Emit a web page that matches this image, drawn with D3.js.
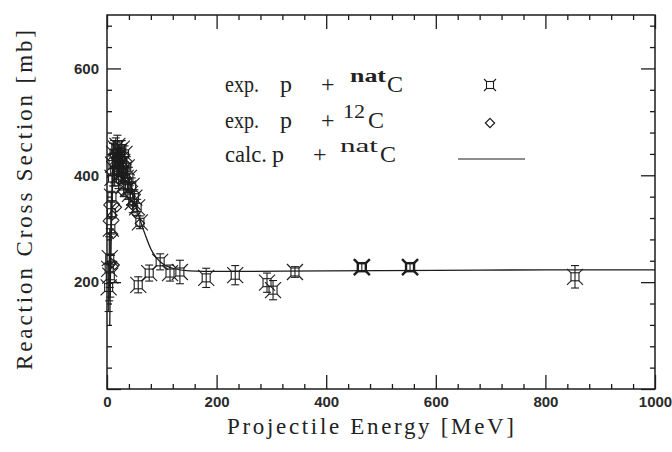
<!DOCTYPE html>
<html><head><meta charset="utf-8">
<script src="https://cdn.jsdelivr.net/npm/d3@7"></script>
<style>
html,body{margin:0;padding:0;background:#fff;}
svg{display:block;}
</style></head><body>
<svg id="chart" width="672" height="452"></svg>
<script>
// Proton reaction cross sections on carbon

// measured p + natC: energy [MeV], cross section [mb], error [mb]
const natE     = [3, 4, 5, 6, 7, 8, 9, 10, 11,
                  13, 14, 16, 17, 19, 20, 21, 22, 23, 25, 26, 27, 28, 30, 31, 32, 34, 36, 38, 40, 42, 45, 47, 50, 55, 60,
                  57, 77, 97, 115, 133, 181, 234, 292, 303, 343, 465, 553, 854];
const natSigma = [190, 225, 245, 212, 300, 330, 360, 395, 420,
                  440, 410, 450, 425, 455, 435, 400, 445, 420, 430, 405, 450, 425, 410, 380, 440, 395, 415, 375, 395, 365, 380, 350, 358, 340, 312,
                  195, 217, 238, 217, 219, 208, 213, 199, 185, 219, 228, 228, 210];
const natErr   = [45, 60, 55, 40, 50, 40, 40, 45, 40,
                  25, 30, 20, 25, 20, 20, 25, 20, 20, 20, 20, 15, 20, 20, 20, 15, 20, 20, 20, 20, 20, 15, 20, 15, 15, 12,
                  15, 15, 15, 15, 22, 18, 18, 18, 18, 10, 8, 8, 21];

// measured p + 12C: energy [MeV], cross section [mb]
const c12E     = [8, 10, 11, 14, 18, 22, 28, 35, 45, 52, 60];
const c12Sigma = [235, 325, 290, 232, 340, 390, 370, 420, 345, 330, 310];

// calculated p + natC
const calcE     = [5, 7, 9, 12, 16, 20, 25, 30, 35, 40, 45, 50, 55, 60, 70, 80, 90, 100, 120, 150, 200, 400, 600, 800, 1000];
const calcSigma = [120, 260, 350, 410, 440, 445, 435, 420, 405, 390, 372, 352, 335, 318, 288, 262, 246, 236, 226, 221, 220, 221, 222, 223, 223];

const xTicks = [0, 200, 400, 600, 800, 1000];
const yTicks = [200, 400, 600];

const svg = d3.select("#chart");
const m = {left: 107, right: 655, top: 15, bottom: 389};
const ink = "#1c1c1c";

const x = d3.scaleLinear().domain([0, 1000]).range([m.left, m.right]);
const y = d3.scaleLinear().domain([0, 700]).range([m.bottom, m.top]);

const xMinor = d3.range(0, 1001, 40).filter(v => v % 200 !== 0);
const yMinor = d3.range(0, 701, 40).filter(v => v % 200 !== 0);
const yMajor = [0, 200, 400, 600];

function tidy(g) {
  g.select(".domain").remove();
  g.selectAll("line").attr("stroke", ink).attr("stroke-width", 1.3);
}
function labels(g) {
  g.selectAll("text")
    .attr("font-family", "'Liberation Sans', Arial, sans-serif")
    .attr("font-size", 15).attr("font-weight", "bold").attr("fill", "#2a2a2a");
}

// ticks on all four sides, pointing inward
svg.append("g").attr("transform", `translate(0,${m.bottom})`)
  .call(d3.axisBottom(x).tickValues(xTicks).tickSize(-14).tickPadding(7).tickFormat(d3.format("d")))
  .call(tidy).call(labels);
svg.append("g").attr("transform", `translate(0,${m.bottom})`)
  .call(d3.axisBottom(x).tickValues(xMinor).tickSize(-5).tickFormat(""))
  .call(tidy);
svg.append("g").attr("transform", `translate(0,${m.top})`)
  .call(d3.axisTop(x).tickValues(xTicks).tickSize(-14).tickFormat(""))
  .call(tidy);
svg.append("g").attr("transform", `translate(0,${m.top})`)
  .call(d3.axisTop(x).tickValues(xMinor).tickSize(-5).tickFormat(""))
  .call(tidy);

svg.append("g").attr("transform", `translate(${m.left},0)`)
  .call(d3.axisLeft(y).tickValues(yMajor).tickSize(-14).tickFormat(""))
  .call(tidy);
svg.append("g").attr("transform", `translate(${m.left},0)`)
  .call(d3.axisLeft(y).tickValues(yTicks).tickSize(0).tickPadding(8).tickFormat(d3.format("d")))
  .call(tidy).call(labels);
svg.append("g").attr("transform", `translate(${m.left},0)`)
  .call(d3.axisLeft(y).tickValues(yMinor).tickSize(-5).tickFormat(""))
  .call(tidy);
svg.append("g").attr("transform", `translate(${m.right},0)`)
  .call(d3.axisRight(y).tickValues(yMajor).tickSize(-14).tickFormat(""))
  .call(tidy);
svg.append("g").attr("transform", `translate(${m.right},0)`)
  .call(d3.axisRight(y).tickValues(yMinor).tickSize(-5).tickFormat(""))
  .call(tidy);

// frame
svg.append("rect")
  .attr("x", m.left).attr("y", m.top)
  .attr("width", m.right - m.left).attr("height", m.bottom - m.top)
  .attr("fill", "none").attr("stroke", ink).attr("stroke-width", 1.5);

// calculated curve
const line = d3.line().x((d, i) => x(calcE[i])).y((d, i) => y(calcSigma[i])).curve(d3.curveMonotoneX);
svg.append("path").datum(calcE)
  .attr("d", line).attr("fill", "none").attr("stroke", ink).attr("stroke-width", 1.3);

// square marker with corner whiskers
function natMarker(g, s, w, sw) {
  g.append("rect").attr("x", -s).attr("y", -s).attr("width", 2 * s).attr("height", 2 * s)
    .attr("fill", "none").attr("stroke", ink).attr("stroke-width", sw);
  const c = [[-1, -1], [1, -1], [1, 1], [-1, 1]];
  c.forEach(([a, b]) => g.append("line")
    .attr("x1", a * s).attr("y1", b * s).attr("x2", a * (s + w)).attr("y2", b * (s + w))
    .attr("stroke", ink).attr("stroke-width", sw));
}

const nat = svg.append("g");
natE.forEach((e, i) => {
  const cx = x(e), cy = y(natSigma[i]);
  const g = nat.append("g").attr("transform", `translate(${cx},${cy})`);
  const top = y(natSigma[i] + natErr[i]) - cy, bot = y(natSigma[i] - natErr[i]) - cy;
  g.append("line").attr("x1", 0).attr("x2", 0).attr("y1", top).attr("y2", bot)
    .attr("stroke", ink).attr("stroke-width", 1.1);
  [top, bot].forEach(v => g.append("line").attr("x1", -4).attr("x2", 4).attr("y1", v).attr("y2", v)
    .attr("stroke", ink).attr("stroke-width", 1.1));
  const heavy = e > 400 && e < 600;
  natMarker(g, 4, 4, heavy ? 2.4 : 1.1);
});

// diamonds
const diamond = d3.symbol().type(d3.symbolDiamond2).size(55);
svg.append("g").selectAll("path").data(c12E).join("path")
  .attr("transform", (d, i) => `translate(${x(d)},${y(c12Sigma[i])})`)
  .attr("d", diamond())
  .attr("fill", "none").attr("stroke", ink).attr("stroke-width", 1.2);

// legend
const serif = "'Liberation Serif', 'Times New Roman', serif";
const leg = svg.append("g").attr("font-family", serif).attr("fill", "#222");
function piece(txt, px, py, size, len, weight) {
  const t = leg.append("text").attr("x", px).attr("y", py).attr("font-size", size).text(txt);
  if (len) t.attr("textLength", len).attr("lengthAdjust", "spacingAndGlyphs");
  if (weight) t.attr("font-weight", weight);
}
piece("exp.", 225, 92, 24, 34); piece("p", 280, 92, 24); piece("+", 321, 92, 24);
piece("nat", 350, 82, 18, 36, "bold"); piece("C", 387, 92, 24);
piece("exp.", 225, 128, 24, 34); piece("p", 280, 128, 24); piece("+", 321, 128, 24);
piece("12", 343, 118, 18, 22); piece("C", 368, 128, 24);
piece("calc.", 225, 162, 24, 42); piece("p", 272, 162, 24); piece("+", 313, 162, 24);
piece("nat", 340, 152, 19, 38); piece("C", 380, 162, 24);

const lg1 = svg.append("g").attr("transform", "translate(490,85)");
natMarker(lg1, 3.5, 2.5, 1.1);
svg.append("path").attr("transform", "translate(490,123)").attr("d", diamond())
  .attr("fill", "none").attr("stroke", ink).attr("stroke-width", 1.2);
svg.append("line").attr("x1", 458).attr("x2", 525).attr("y1", 159).attr("y2", 159)
  .attr("stroke", ink).attr("stroke-width", 1.2);

// axis titles
svg.append("text").attr("x", 227).attr("y", 434)
  .attr("font-family", serif).attr("font-size", 23).attr("fill", "#222")
  .attr("textLength", 287).attr("lengthAdjust", "spacing")
  .text("Projectile Energy [MeV]");
svg.append("text").attr("transform", "translate(32,370) rotate(-90)")
  .attr("font-family", serif).attr("font-size", 23).attr("fill", "#222")
  .attr("textLength", 340).attr("lengthAdjust", "spacing")
  .text("Reaction Cross Section [mb]");
</script>
</body></html>
